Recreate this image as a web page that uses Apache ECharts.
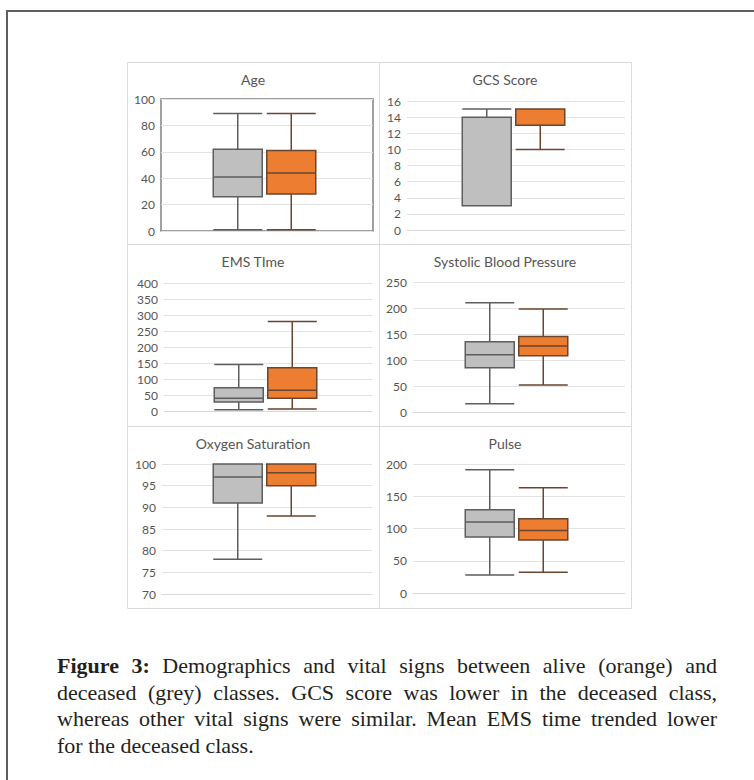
<!DOCTYPE html>
<html><head><meta charset="utf-8">
<script src="https://cdn.jsdelivr.net/npm/echarts@6/dist/echarts.min.js"></script>
<style>html,body{margin:0;padding:0;background:#fff}#c{width:754px;height:780px}</style>
</head><body><div id="c"></div>
<script>
// ---- data ----
const groups = ['Deceased', 'Alive'];
const panelTitles = ['Age', 'GCS Score', 'EMS TIme', 'Systolic Blood Pressure', 'Oxygen Saturation', 'Pulse'];
// each box: [min, Q1, median, Q3, max]
const ageDeceased = [1, 26, 41, 62, 89];
const ageAlive = [1, 28, 44, 61, 89];
const gcsDeceased = [3, 3, 14, 14, 15];
const gcsAlive = [10, 13, 15, 15, 15];
const emsDeceased = [4, 28, 40, 73, 145];
const emsAlive = [6, 40, 65, 135, 280];
const sbpDeceased = [16, 85, 110, 135, 210];
const sbpAlive = [52, 108, 127, 145, 198];
const o2Deceased = [78, 91, 97, 100, 100];
const o2Alive = [88, 95, 98, 100, 100];
const pulseDeceased = [28, 87, 110, 129, 191];
const pulseAlive = [32, 82, 97, 115, 163];
const yMins = [0, 0, 0, 0, 70, 0];
const yMaxs = [100, 16, 400, 250, 100, 200];
const yIntervals = [20, 2, 50, 50, 5, 50];
const captionLines = [
  'Figure 3: Demographics and vital signs between alive (orange) and',
  'deceased (grey) classes. GCS score was lower in the deceased class,',
  'whereas other vital signs were similar. Mean EMS time trended lower',
  'for the deceased class.'
];

// ---- layout ----
const deceasedSets = [ageDeceased, gcsDeceased, emsDeceased, sbpDeceased, o2Deceased, pulseDeceased];
const aliveSets = [ageAlive, gcsAlive, emsAlive, sbpAlive, o2Alive, pulseAlive];
const plotRects = [[161,99,212,132],[407,101,218,129],[164,283,208,128],[413,282,212,130],[162,464,210,130],[413,464,212,129]];
const titlePos = [[253,79],[505,79],[253,261],[505,261],[253,443],[505,443]];

const grids = [], xAxes = [], yAxes = [], series = [], graphics = [];
const boxGridW = 107;
for (let i = 0; i < 6; i++) {
  const [l, t, w, h] = plotRects[i];
  grids.push({left: l, top: t, width: w, height: h, show: i === 0, borderColor: '#808080', borderWidth: 1.5, backgroundColor: 'transparent'});
  grids.push({left: l + w / 2 - boxGridW / 2 - 2.5, top: t, width: boxGridW, height: h});
  xAxes.push({gridIndex: 2*i, type: 'category', data: [''],
    axisLine: {show: i !== 0, lineStyle: {color: '#d9d9d9', width: 1}},
    axisTick: {show: false}, axisLabel: {show: false}, splitLine: {show: false}});
  xAxes.push({gridIndex: 2*i+1, type: 'category', data: groups, show: false});
  yAxes.push({gridIndex: 2*i, type: 'value', min: yMins[i], max: yMaxs[i], interval: yIntervals[i],
    axisLine: {show: false}, axisTick: {show: false},
    axisLabel: {color: '#555555', fontSize: 12, fontFamily: 'Lato', margin: 6},
    splitLine: {show: true, lineStyle: {color: '#e3e3e3', width: 1}}});
  yAxes.push({gridIndex: 2*i+1, type: 'value', min: yMins[i], max: yMaxs[i], show: false, splitLine: {show: false}});
  series.push({
    type: 'boxplot', xAxisIndex: 2*i+1, yAxisIndex: 2*i+1, boxWidth: [49, 49],
    silent: true, animation: false,
    itemStyle: {borderWidth: 1.5},
    data: [
      {value: deceasedSets[i], itemStyle: {color: '#bfbfbf', borderColor: '#5e5e5e'}},
      {value: aliveSets[i], itemStyle: {color: '#ed7d31', borderColor: '#6a4530'}}
    ]
  });
  graphics.push({type: 'text', x: titlePos[i][0], y: titlePos[i][1], silent: true,
    style: {text: panelTitles[i], fill: '#555555', font: '14px Lato', align: 'center', verticalAlign: 'middle'}});
}
// panel frames
const colX = [127.5, 379.5, 631.5], rowY = [62.5, 244.5, 426.5, 608.5];
for (let r = 0; r < 3; r++) for (let c = 0; c < 2; c++) {
  graphics.push({type: 'rect', silent: true, shape: {x: colX[c], y: rowY[r], width: colX[c+1]-colX[c], height: rowY[r+1]-rowY[r]},
    style: {fill: 'none', stroke: '#dadada', lineWidth: 1}});
}
// outer frame
graphics.push({type: 'rect', silent: true, shape: {x: 7, y: 11, width: 800, height: 800},
  style: {fill: 'none', stroke: '#5f5f5f', lineWidth: 2}});

// caption (justified)
const capSize = 22, capLeft = 57, capRight = 717;
const capCenters = [665, 692, 718.5, 745];
const cv = document.createElement('canvas').getContext('2d');
function fontOf(bold) { return (bold ? 'bold ' : '') + capSize + 'px "Liberation Serif"'; }
function measure(t, bold) { cv.font = fontOf(bold); return cv.measureText(t).width; }
captionLines.forEach((line, li) => {
  const words = line.split(' ');
  const bolds = words.map((w, wi) => li === 0 && wi < 2);
  const widths = words.map((w, wi) => measure(w, bolds[wi]));
  const total = widths.reduce((a, b) => a + b, 0);
  const justify = li < captionLines.length - 1;
  const gap = justify ? (capRight - capLeft - total) / (words.length - 1) : measure(' ', false);
  let x = capLeft;
  words.forEach((w, wi) => {
    graphics.push({type: 'text', x: x, y: capCenters[li], silent: true,
      style: {text: w, fill: '#231f20', font: fontOf(bolds[wi]), align: 'left', verticalAlign: 'middle'}});
    x += widths[wi] + gap;
  });
});

const chart = echarts.init(document.getElementById('c'), null, {renderer: 'svg', width: 754, height: 780});
chart.setOption({
  backgroundColor: '#ffffff',
  animation: false,
  grid: grids, xAxis: xAxes, yAxis: yAxes, series: series,
  graphic: graphics
});
</script>
</body></html>
